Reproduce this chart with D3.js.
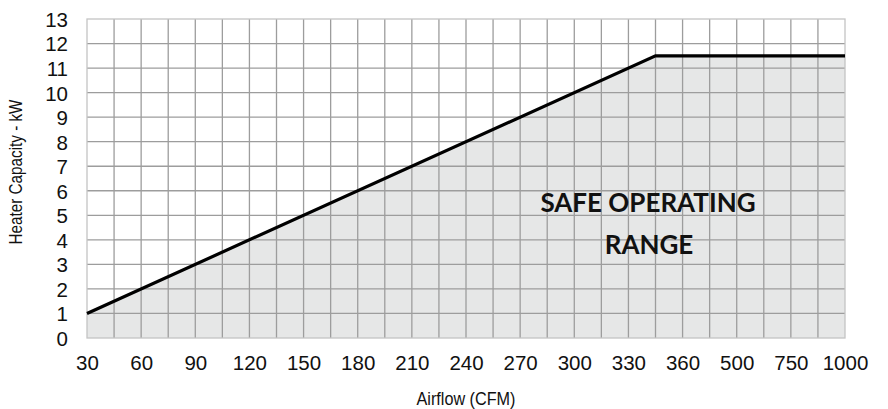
<!DOCTYPE html>
<html><head><meta charset="utf-8">
<script src="https://cdn.jsdelivr.net/npm/d3@7"></script>
<style>body{margin:0;background:#fff}svg{display:block}</style>
</head><body>
<svg id="c" width="888" height="409"></svg>
<script>
const xTickLabels = [30,60,90,120,150,180,210,240,270,300,330,360,500,750,1000];
const yTicks = [0,1,2,3,4,5,6,7,8,9,10,11,12,13];
const lineCFM = [30, 345, 1000];
const lineKW = [1, 11.5, 11.5];
const areaLabel = ["SAFE OPERATING", "RANGE"];

const W = 888, H = 409;
const m = {l:87, r:43, t:19, b:71};
const iw = W - m.l - m.r, ih = H - m.t - m.b;
const svg = d3.select("#c");
const g = svg.append("g").attr("transform", `translate(${m.l},${m.t})`);

// piecewise scale: equal spacing per category tick
const step = iw / (xTickLabels.length - 1);
const x = d3.scaleLinear().domain(xTickLabels).range(xTickLabels.map((d,i)=>i*step));
const y = d3.scaleLinear().domain([0,13]).range([ih,0]);

const pts = lineCFM.map((c,i)=>[c, lineKW[i]]);
g.append("path").datum(pts)
 .attr("d", d3.area().x(d=>x(d[0])).y0(y(0)).y1(d=>y(d[1])))
 .attr("fill", "#e6e7e7");

const vx = [];
for (let i=0;i<xTickLabels.length-1;i++){ vx.push(i*step, i*step+step/2); }
g.append("g").selectAll("line").data(vx.slice(1)).join("line")
 .attr("x1",d=>d).attr("x2",d=>d).attr("y1",0).attr("y2",ih)
 .attr("stroke","#9d9d9d").attr("stroke-width",1.3);
g.append("g").selectAll("line").data(yTicks.slice(1,-1)).join("line")
 .attr("x1",0).attr("x2",iw).attr("y1",d=>y(d)).attr("y2",d=>y(d))
 .attr("stroke","#9d9d9d").attr("stroke-width",1.3);
g.append("rect").attr("x",0).attr("y",0).attr("width",iw).attr("height",ih)
 .attr("fill","none").attr("stroke","#c4c4c4").attr("stroke-width",1.3);

g.append("path").datum(pts)
 .attr("d", d3.line().x(d=>x(d[0])).y(d=>y(d[1])))
 .attr("fill","none").attr("stroke","#000").attr("stroke-width",3.2);

const xAxis = g.append("g").attr("transform",`translate(0,${ih})`)
 .call(d3.axisBottom(x).tickValues(xTickLabels).tickFormat(d=>d).tickSize(0).tickPadding(18));
const yAxis = g.append("g")
 .call(d3.axisLeft(y).tickValues(yTicks).tickFormat(d=>d).tickSize(0).tickPadding(19));
[xAxis,yAxis].forEach(a=>{
  a.select(".domain").remove();
  a.selectAll("text").attr("font-family","'Liberation Sans', Arial, sans-serif")
   .attr("font-size",20.5).attr("fill","#111");
});
yAxis.selectAll("text").attr("dy","0.36em");
xAxis.selectAll("text").attr("dy","0.7em");

svg.append("text").attr("x",466).attr("y",405).attr("text-anchor","middle")
 .attr("font-family","'Liberation Sans', Arial, sans-serif")
 .attr("font-size",18).attr("fill","#111")
 .attr("textLength",99).attr("lengthAdjust","spacingAndGlyphs").text("Airflow (CFM)");
svg.append("text").attr("transform","translate(22,172) rotate(-90)").attr("text-anchor","middle")
 .attr("font-family","'Liberation Sans', Arial, sans-serif")
 .attr("font-size",18).attr("fill","#111")
 .attr("textLength",145).attr("lengthAdjust","spacingAndGlyphs").text("Heater Capacity - kW");

const lab = svg.append("text").attr("text-anchor","middle")
 .attr("font-family","Lato, 'Open Sans', sans-serif").attr("font-weight","bold")
 .attr("font-size",26).attr("fill","#111");
lab.append("tspan").attr("x",648).attr("y",212).text(areaLabel[0]);
lab.append("tspan").attr("x",649).attr("y",254).text(areaLabel[1]);
</script>
</body></html>
